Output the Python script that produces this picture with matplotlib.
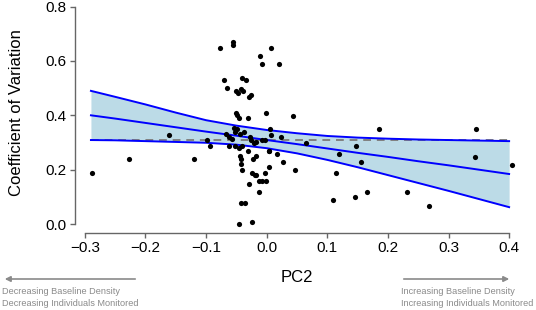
import matplotlib
matplotlib.use("Agg")
import matplotlib.pyplot as plt
import numpy as np

plt.rcParams['font.family'] = ['Liberation Sans', 'DejaVu Sans']

# scatter data (PC2, coefficient of variation)
pc2 = [-0.289, -0.227, -0.161, -0.120, -0.099, -0.094, -0.077, -0.056, -0.056, -0.070,
       -0.065, -0.040, -0.034, -0.051, -0.047, -0.043, -0.039, -0.030, -0.026, -0.011,
       0.007, -0.007, 0.020, -0.051, -0.049, -0.046, -0.031, -0.001, 0.043, 0.005,
       0.007, 0.023, -0.052, -0.049, -0.037, -0.067, -0.062, -0.028, -0.026, -0.021,
       -0.044, -0.007, -0.002, -0.062, -0.052, -0.046, -0.041, -0.031, 0.003, 0.017,
       0.065, -0.044, -0.042, -0.042, -0.041, -0.023, -0.017, 0.027, 0.003, -0.002,
       -0.024, -0.020, -0.017, -0.013, -0.007, -0.001, -0.030, -0.013, 0.046, -0.043,
       -0.035, -0.046, -0.025, 0.119, 0.114, 0.109, 0.185, 0.345, 0.147, 0.155,
       0.344, 0.405, 0.146, 0.166, 0.232, 0.267, -0.054, -0.058, -0.017, 0.004]
cv = [0.189, 0.238, 0.329, 0.238, 0.309, 0.288, 0.649, 0.669, 0.660, 0.529,
      0.499, 0.538, 0.529, 0.490, 0.481, 0.498, 0.491, 0.468, 0.476, 0.619,
      0.649, 0.590, 0.590, 0.407, 0.400, 0.391, 0.389, 0.409, 0.399, 0.350,
      0.329, 0.319, 0.340, 0.349, 0.339, 0.330, 0.321, 0.319, 0.309, 0.299,
      0.330, 0.309, 0.309, 0.288, 0.288, 0.279, 0.288, 0.269, 0.269, 0.259,
      0.299, 0.249, 0.239, 0.220, 0.199, 0.239, 0.249, 0.228, 0.209, 0.189,
      0.189, 0.179, 0.179, 0.158, 0.158, 0.158, 0.148, 0.118, 0.199, 0.078,
      0.078, 0.000, 0.009, 0.259, 0.189, 0.088, 0.349, 0.349, 0.288, 0.228,
      0.248, 0.218, 0.098, 0.119, 0.119, 0.066, 0.354, 0.313, 0.303, 0.270]

# fitted model and confidence band
fit_x = [-0.29, -0.25, -0.2, -0.15, -0.1, -0.05, 0.0, 0.05, 0.1, 0.15, 0.2, 0.25, 0.3, 0.35, 0.4]
fit_mid = [0.400, 0.388, 0.372, 0.356, 0.340, 0.325, 0.309, 0.294, 0.278, 0.262, 0.247,
           0.231, 0.216, 0.200, 0.184]
fit_upper = [0.490, 0.468, 0.440, 0.410, 0.382, 0.362, 0.346, 0.334, 0.324, 0.318, 0.314,
             0.311, 0.309, 0.307, 0.305]
fit_lower = [0.309, 0.308, 0.305, 0.302, 0.299, 0.292, 0.279, 0.260, 0.236, 0.209, 0.180,
             0.151, 0.122, 0.092, 0.062]
null_x = [-0.29, 0.40]
null_y = [0.309, 0.309]

xticks = [-0.3, -0.2, -0.1, 0.0, 0.1, 0.2, 0.3, 0.4]
yticks = [0.0, 0.2, 0.4, 0.6, 0.8]

W, H = 536, 310
fig = plt.figure(figsize=(W / 100, H / 100), dpi=100)
ax = fig.add_axes([75 / W, (H - 233) / H, (527.3 - 75) / W, 232 / H])
ax.set_xlim(-0.3163, 0.43)
ax.set_ylim(-0.0331, 0.8207)

ax.fill_between(fit_x, fit_lower, fit_upper, color='#bcdbe7', lw=0, zorder=1)
ax.plot(null_x, null_y, color='#808080', lw=1.4, ls=(0, (4, 3)), zorder=2)
ax.plot(fit_x, fit_upper, color='#0000ff', lw=1.4, zorder=3)
ax.plot(fit_x, fit_lower, color='#0000ff', lw=1.4, zorder=3)
ax.plot(fit_x, fit_mid, color='#0000ff', lw=1.4, zorder=3)
ax.scatter(pc2, cv, s=14, color='black', lw=0, zorder=4)

for s in ['top', 'right']:
    ax.spines[s].set_visible(False)
ax.spines['left'].set_bounds(0, 0.8)
ax.spines['bottom'].set_bounds(-0.3, 0.4)
for s in ['left', 'bottom']:
    ax.spines[s].set_color('#666666')
    ax.spines[s].set_linewidth(1.0)
ax.set_xticks(xticks)
ax.set_yticks(yticks)
ax.set_xticklabels([f"{v:.1f}".replace('-', '\u2212') for v in xticks])
ax.set_yticklabels([f"{v:.1f}" for v in yticks])
ax.tick_params(length=3.5, width=1.0, color='#666666', labelsize=11, pad=2.5)

fig.text(17 / W, 1 - 113 / H, 'Coefficient of Variation', fontsize=12, rotation=90,
         ha='center', va='center')
fig.text(297 / W, 1 - 278 / H, 'PC2', fontsize=12, ha='center', va='center')

gray = '#8a8a8a'
fig.add_artist(matplotlib.patches.FancyArrowPatch(
    (138 / W, 1 - 279 / H), (2 / W, 1 - 279 / H), transform=fig.transFigure,
    arrowstyle='-|>', mutation_scale=8, color=gray, lw=1.2))
fig.add_artist(matplotlib.patches.FancyArrowPatch(
    (401 / W, 1 - 279 / H), (512 / W, 1 - 279 / H), transform=fig.transFigure,
    arrowstyle='-|>', mutation_scale=8, color=gray, lw=1.2))
fs = 6.6
fig.text(2 / W, 1 - 291 / H, 'Decreasing Baseline Density', fontsize=fs, color=gray, ha='left', va='center')
fig.text(2 / W, 1 - 303.5 / H, 'Decreasing Individuals Monitored', fontsize=fs, color=gray, ha='left', va='center')
fig.text(401 / W, 1 - 291 / H, 'Increasing Baseline Density', fontsize=fs, color=gray, ha='left', va='center')
fig.text(401 / W, 1 - 303.5 / H, 'Increasing Individuals Monitored', fontsize=fs, color=gray, ha='left', va='center')

fig.savefig('out.png', dpi=100)
